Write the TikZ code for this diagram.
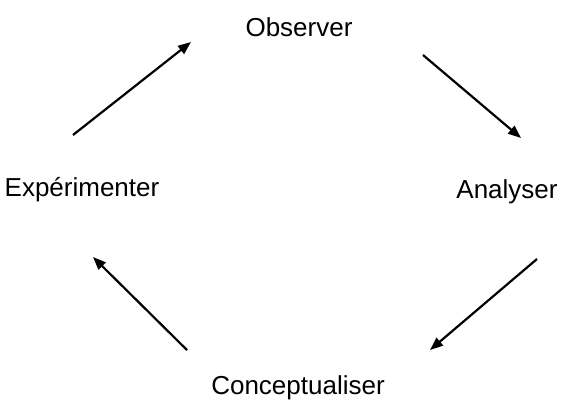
\documentclass[tikz,border=0pt]{standalone}
\usepackage{fontspec}
\setmainfont{Liberation Sans}
\usepackage{xcolor}
\usetikzlibrary{arrows.meta, positioning}

\begin{document}
\begin{tikzpicture}[x=1pt, y=-1pt,
    word/.style={inner sep=0pt, anchor=base, font=\fontsize{26}{30}\selectfont},
    flow/.style={-{Triangle[length=13pt, width=10pt]}, line width=2.2pt}]

        \useasboundingbox (0,0) rectangle (580,400);

        \node[word] (obs) at (299,36) {Observer};
        \node[word] (ana) at (507,198) {Analyser};
        \node[word] (con) at (298,394) {Conceptualiser};
        \node[word] (exp) at (82,196) {Expérimenter};

        \coordinate (e1) at (73,135);  \coordinate (o1) at (191,42);
        \coordinate (o2) at (423,55);  \coordinate (a2) at (521,138);
        \coordinate (a3) at (537,259); \coordinate (c3) at (430,350);
        \coordinate (c4) at (187,350); \coordinate (x4) at (93,257);

        \path[flow]
        (e1) edge (o1)
        (o2) edge (a2)
        (a3) edge (c3)
        (c4) edge (x4);
    \end{tikzpicture}
\end{document}
